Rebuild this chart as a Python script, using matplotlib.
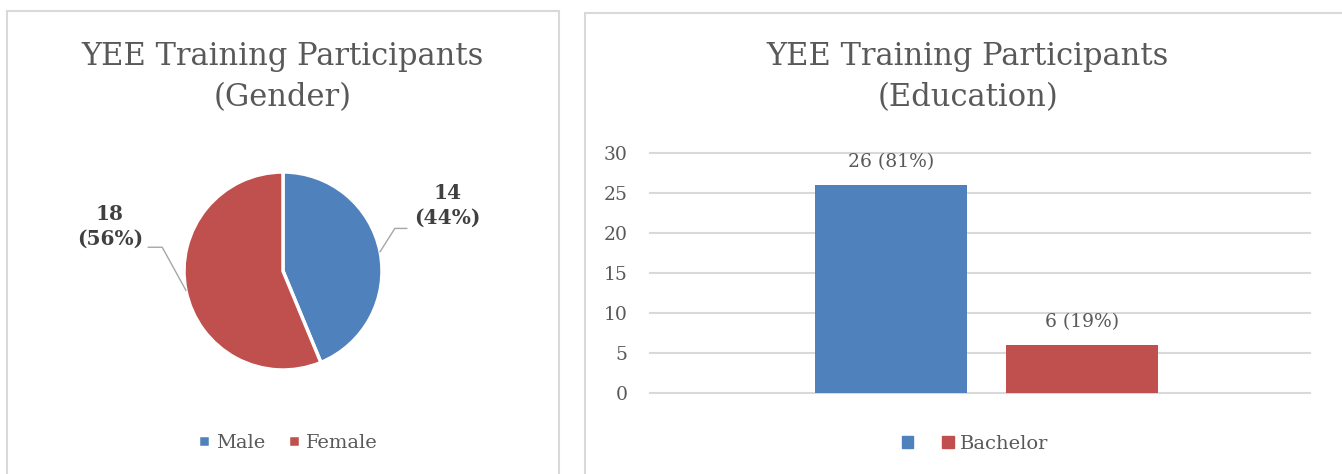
import numpy as np
import matplotlib
matplotlib.use("Agg")
from matplotlib import pyplot as plt
from matplotlib.patches import Rectangle, Patch

# data
gender_labels = ['Male', 'Female']
gender_counts = [14, 18]
edu_series = ['', 'Bachelor']
edu_counts = [26, 6]
edu_pct = [81, 19]

BLUE = '#4F81BD'
RED = '#C0504D'
TXT = '#595959'
GRID = '#D9D9D9'

plt.rcParams['font.family'] = ['DejaVu Serif']

W, H = 1342, 474
fig = plt.figure(figsize=(W / 100, H / 100), dpi=100)


def box(x0, y0, x1, y1):
    # pixel box (top-left origin) -> figure fraction [l, b, w, h]
    return [x0 / W, 1 - y1 / H, (x1 - x0) / W, (y1 - y0) / H]


# panel borders
for x0, y0, x1 in [(7, 11, 559), (585, 13, 1350)]:
    l, b, w, h = box(x0, y0, x1, H + 10)
    fig.patches.append(Rectangle((l, b), w, h, transform=fig.transFigure,
                                 fill=False, edgecolor=GRID, lw=1.5))

# ---- left: pie ----
ax1 = fig.add_axes(box(184, 172, 382, 370))
wedges, _ = ax1.pie(gender_counts, colors=[BLUE, RED], startangle=90,
                    counterclock=False,
                    wedgeprops=dict(edgecolor='white', linewidth=2.5))
ax1.set_aspect('equal')
ax1.set_xlim(-1, 1)
ax1.set_ylim(-1, 1)

total = sum(gender_counts)
# label placement offsets (elbow, line end, text centre) in radius units
lab_pos = [((1.13, 0.43), (1.25, 0.43), (1.66, 0.66)),
           ((-1.22, 0.24), (-1.36, 0.24), (-1.75, 0.45))]
for w, n, (elb, end, tp) in zip(wedges, gender_counts, lab_pos):
    ang = np.deg2rad((w.theta1 + w.theta2) / 2)
    p0 = (np.cos(ang), np.sin(ang))
    ax1.plot([p0[0], elb[0], end[0]], [p0[1], elb[1], end[1]],
             color='#A6A6A6', lw=1, clip_on=False)
    ax1.text(tp[0], tp[1], f"{n}\n({round(100 * n / total)}%)",
             ha='center', va='center', fontsize=14.5, fontweight='bold',
             color='#404040', linespacing=1.3)

fig.text(283 / W, 1 - 77 / H, "YEE Training Participants\n(Gender)",
         ha='center', va='center', fontsize=22, color=TXT, linespacing=1.45)

fig.legend(wedges, gender_labels, loc='center', bbox_to_anchor=(288 / W, 1 - 443 / H),
           ncol=2, frameon=False, fontsize=14, labelcolor=TXT,
           handlelength=0.6, handleheight=0.6, handletextpad=0.3, columnspacing=1.2)

# ---- right: bars ----
ax2 = fig.add_axes(box(650, 153, 1310, 393))
xs = [-0.27, 0.31]
bars = ax2.bar(xs, edu_counts, width=0.46, color=[BLUE, RED], zorder=2)
ax2.set_xlim(-1, 1)
ax2.set_ylim(0, 30)
ax2.set_yticks(range(0, 31, 5))
ax2.set_xticks([])
ax2.grid(axis='y', color=GRID, lw=1.5, zorder=0)
for gl in ax2.get_ygridlines():
    gl.set_clip_on(False)
for s in ax2.spines.values():
    s.set_visible(False)
ax2.tick_params(axis='y', length=0, pad=16, labelsize=13.5, labelcolor=TXT)
for x, v, p in zip(xs, edu_counts, edu_pct):
    ax2.annotate(f"{v} ({p}%)", (x, v), xytext=(0, 23), textcoords='offset pixels',
                 ha='center', va='center', fontsize=13.5, color=TXT)

fig.text(968 / W, 1 - 77 / H, "YEE Training Participants\n(Education)",
         ha='center', va='center', fontsize=22, color=TXT, linespacing=1.45)

handles = [Patch(color=BLUE), Patch(color=RED)]
fig.legend(handles, edu_series, loc='center', bbox_to_anchor=(975 / W, 1 - 444 / H),
           ncol=2, frameon=False, fontsize=14, labelcolor=TXT,
           handlelength=0.6, handleheight=0.6, handletextpad=0.3, columnspacing=1.2)

fig.savefig('out.png', dpi=100, facecolor='white')
